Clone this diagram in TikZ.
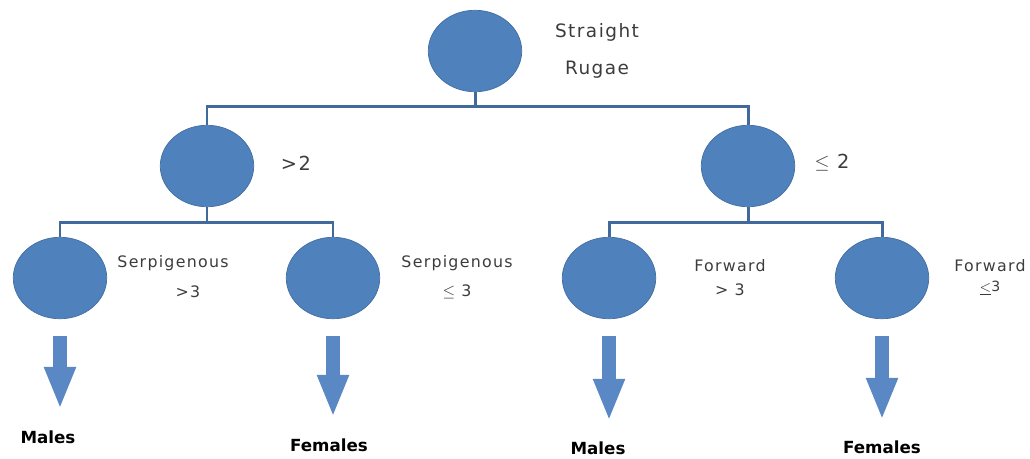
\documentclass[tikz,border=0pt]{standalone}
\usepackage{fontspec}
\setmainfont{DejaVu Sans}
\newfontfamily\lblfont[LetterSpace=8]{DejaVu Sans}
\usetikzlibrary{shapes.geometric, arrows.meta, calc}

\definecolor{nodeblue}{HTML}{4F81BD}
\definecolor{linkblue}{HTML}{41699C}
\definecolor{arrowblue}{HTML}{5A88C4}
\definecolor{lblgray}{HTML}{3C3C3C}

\begin{document}
\begin{tikzpicture}[x=0.02cm, y=-0.02cm,
    blob/.style={ellipse, fill=nodeblue, draw=nodeblue!85!black, minimum width=1.87cm, minimum height=1.63cm, inner sep=0pt},
    branch/.style={draw=linkblue, line width=1.7pt},
    bigarrow/.style={draw=arrowblue, line width=8.5pt, -{Triangle[width=16.5pt, length=24pt]}, shorten <=9.5pt},
    lbl/.style={text=lblgray, font=\lblfont\fontsize{9}{11}\selectfont, inner sep=1pt},
    outcome/.style={font=\bfseries\fontsize{9.5}{11}\selectfont, inner sep=1pt}]
\useasboundingbox (0,0) rectangle (1030,458);

% tree nodes
\node[blob] (root) at (475,51) {};
\node[blob] (gt2) at (207,166) {};
\node[blob] (le2) at (748,166) {};
\node[blob] (serpA) at (60,278) {};
\node[blob] (serpB) at (333,278) {};
\node[blob] (fwdA) at (609,278) {};
\node[blob] (fwdB) at (882,278) {};

\coordinate (bar1) at (0,106);
\coordinate (bar2) at (0,222);

% labels
\node[lbl, font=\lblfont\fontsize{10.5}{12}\selectfont] (t-straight) at (597,32) {Straight};
\node[lbl, font=\lblfont\fontsize{10.5}{12}\selectfont] (t-rugae) at (597,70) {Rugae};
\node[lbl, font=\lblfont\fontsize{11}{13}\selectfont] (t-gt2) at (296,163) {>2};
\node[lbl, font=\lblfont\fontsize{11}{13}\selectfont] (t-le2) at (832,163) {$\leq$ 2};
\node[lbl] (t-serpA) at (173,263) {Serpigenous};
\node[lbl] (t-serpA2) at (188,292) {>3};
\node[lbl] (t-serpB) at (457,263) {Serpigenous};
\node[lbl] (t-serpB2) at (457,292) {$\leq$ 3};
\node[lbl] (t-fwdA) at (730,266) {Forward};
\node[lbl] (t-fwdA2) at (730,290) {> 3};
\node[lbl] (t-fwdB) at (990,266) {Forward};
\node[lbl, font=\lblfont\fontsize{8}{10}\selectfont] (t-fwdB2) at (990,288) {$\underline{<}$3};

\node[outcome] (males1) at (48,437) {Males};
\node[outcome] (females1) at (329,445) {Females};
\node[outcome] (males2) at (598,448) {Males};
\node[outcome] (females2) at (882,447) {Females};

% branches
\draw[branch] (root.south) -- (root.south |- bar1) -| (gt2.north);
\draw[branch] (root.south |- bar1) -| (le2.north);
\draw[branch] (gt2.south) -- (gt2.south |- bar2) -| (serpA.north);
\draw[branch] (gt2.south |- bar2) -| (serpB.north);
\draw[branch] (le2.south) -- (le2.south |- bar2) -| (fwdA.north);
\draw[branch] (le2.south |- bar2) -| (fwdB.north);

% outcome arrows
\draw[bigarrow, shorten >=11pt] (serpA.south) -- (serpA.south |- males1.north);
\draw[bigarrow, shorten >=11pt] (serpB.south) -- (serpB.south |- females1.north);
\draw[bigarrow, shorten >=10.5pt] (fwdA.south) -- (fwdA.south |- males2.north);
\draw[bigarrow, shorten >=10.5pt] (fwdB.south) -- (fwdB.south |- females2.north);

\end{tikzpicture}
\end{document}
